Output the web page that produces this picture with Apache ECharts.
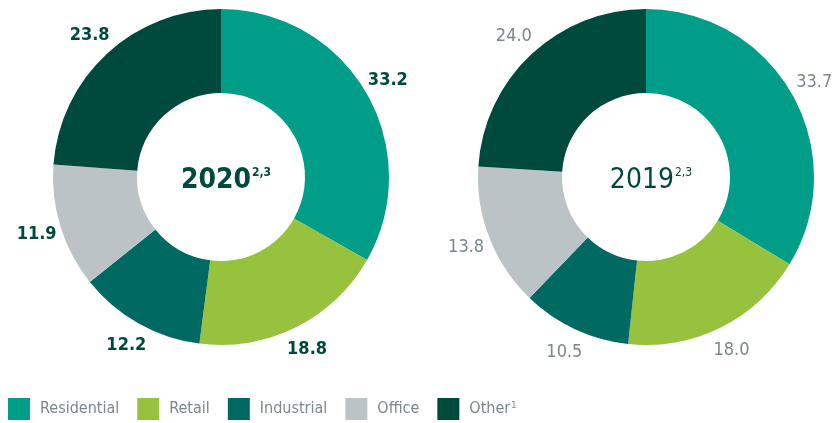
<!DOCTYPE html>
<html lang="en">
<head>
    <meta charset="UTF-8">
    <script type="text/javascript" src="https://cdn.jsdelivr.net/npm/echarts@6/dist/echarts.min.js" charset="utf-8"></script>
    <title>Portfolio by sector</title>
    <style>
        html, body { margin: 0; padding: 0; background: #fff; }
        #main { width: 834px; height: 423px; }
    </style>
</head>
<body>
<div id="main"></div>
<script>
// sectors and values (percent)
var sectors = ['Residential', 'Retail', 'Industrial', 'Office', 'Other'];
var values2020 = [33.2, 18.8, 12.2, 11.9, 23.8];
var values2019 = [33.7, 18.0, 10.5, 13.8, 24.0];
var colors = ['#009e88', '#97c23e', '#006a62', '#bbc3c6', '#00493d'];

var FONT = "'Liberation Sans Narrow', 'DejaVu Sans Condensed', 'Roboto Condensed', 'Liberation Sans', sans-serif";
var darkGreen = '#00493d';
var grey = '#7b868b';

function toData(vals) {
  return sectors.map(function (name, i) {
    return { name: name, value: vals[i] };
  });
}

// colored donut
function ring(center, vals) {
  return {
    type: 'pie',
    center: center,
    radius: [84, 168],
    startAngle: 90,
    silent: true,
    label: { show: false },
    labelLine: { show: false },
    data: toData(vals)
  };
}

// invisible ring only used to place the value labels outside the donut
function labelRing(center, vals, bold, color) {
  return {
    type: 'pie',
    center: center,
    radius: [180, 200],
    startAngle: 90,
    silent: true,
    itemStyle: { color: 'rgba(0,0,0,0)' },
    label: {
      show: true,
      position: 'inside',
      color: color,
      fontFamily: FONT,
      fontSize: 18,
      fontWeight: bold ? 'bold' : 'normal',
      formatter: function (p) { return p.value.toFixed(1); }
    },
    labelLine: { show: false },
    data: toData(vals)
  };
}

function centerTitle(x, year, weight) {
  return {
    text: '{y|' + year + '}{s|2,3}',
    left: x,
    top: 162,
    textAlign: 'center',
    textStyle: {
      rich: {
        y: { fontFamily: FONT, fontSize: 28, lineHeight: 28, fontWeight: weight, color: darkGreen },
        s: { fontFamily: FONT, fontSize: 12, lineHeight: 12, fontWeight: weight, color: darkGreen, verticalAlign: 'top', padding: [0, 0, 0, 1] }
      }
    }
  };
}

var chart = echarts.init(document.getElementById('main'));

var option = {
  color: colors,
  animation: false,
  title: [
    centerTitle(221, '2020', 'bold'),
    centerTitle(646, '2019', 'normal')
  ],
  legend: {
    data: sectors,
    left: 8,
    top: 398,
    padding: 0,
    itemWidth: 22,
    itemHeight: 22,
    itemGap: 18,
    icon: 'rect',
    selectedMode: false,
    formatter: function (name) {
      return name === 'Other' ? '{t|Other}{s|1}' : '{t|' + name + '}';
    },
    textStyle: {
      padding: [0, 0, 0, 5],
      rich: {
        t: { fontFamily: FONT, fontSize: 16, color: grey },
        s: { fontFamily: FONT, fontSize: 9, lineHeight: 9, color: grey, verticalAlign: 'top', padding: [0, 0, 0, 1] }
      }
    }
  },
  series: [
    ring([221, 177], values2020),
    ring([646, 177], values2019),
    labelRing([221, 177], values2020, true, darkGreen),
    labelRing([646, 177], values2019, false, grey)
  ]
};

chart.setOption(option);
</script>
</body>
</html>
